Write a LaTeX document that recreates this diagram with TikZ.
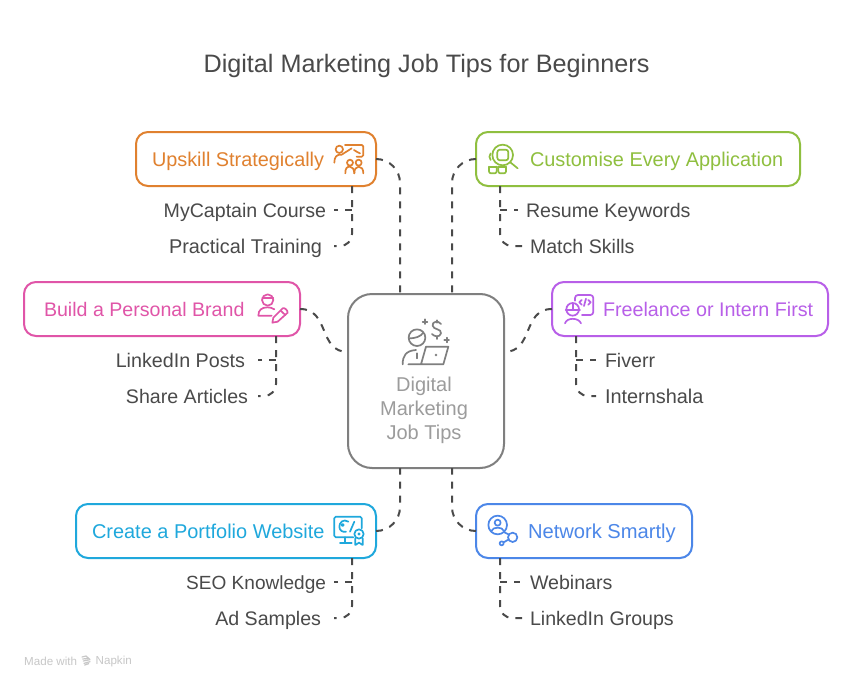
\documentclass[tikz,border=0pt]{standalone}
\usepackage{fontspec}
\setmainfont{Liberation Sans}
\definecolor{cor}{HTML}{E0812F}
\definecolor{cgr}{HTML}{8FBF3F}
\definecolor{cpk}{HTML}{E055A8}
\definecolor{cpu}{HTML}{B85FE8}
\definecolor{ccy}{HTML}{1FA8DC}
\definecolor{cbl}{HTML}{4C87E8}
\definecolor{cgy}{HTML}{7F7F7F}
\definecolor{ctx}{HTML}{4A4A4A}
\definecolor{cct}{HTML}{9C9C9C}
\tikzset{
 box/.style={draw=#1,line width=2pt,rounded corners=12pt,fill=white,inner sep=0pt,outer sep=0pt,anchor=north west},
 head/.style={text=#1,inner sep=0pt,outer sep=0pt,text height=14pt,text depth=0pt,anchor=west},
 lab/.style={text=ctx,inner ysep=0pt,outer sep=0pt,text height=14pt,text depth=0pt},
 fs/.style={font=\fontsize{#1}{20}\selectfont},
 conn/.style={draw=ctx,line width=2pt,dash pattern=on 7pt off 7pt},
 ico/.style={draw=#1,line width=1.7pt,line cap=round,line join=round},
 foot/.style={text=black!22,font=\fontsize{11.6}{12}\selectfont,inner sep=0pt,anchor=west},
}
\begin{document}
\begin{tikzpicture}[x=1pt,y=-1pt]
\useasboundingbox[fill=white] (0,0) rectangle (852,688);
\node[text=ctx,font=\fontsize{25.2}{26}\selectfont,inner sep=0pt] (title) at (426.5,66) {Digital Marketing Job Tips for Beginners};
% boxes
\node[box=cgy,rounded corners=24pt,minimum width=156pt,minimum height=174pt] (cen) at (348,294) {};
\node[box=cor,minimum width=240pt,minimum height=54pt] (up) at (136,132) {};
\node[box=cgr,minimum width=324pt,minimum height=54pt] (cu) at (476,132) {};
\node[box=cpk,minimum width=276pt,minimum height=54pt] (br) at (24,282) {};
\node[box=cpu,minimum width=276pt,minimum height=54pt] (fr) at (552,282) {};
\node[box=ccy,minimum width=300pt,minimum height=54pt] (cr) at (76,504) {};
\node[box=cbl,minimum width=216pt,minimum height=54pt] (ne) at (476,504) {};
% heading texts
\node[head=cor,fs=19.85] (upt) at (152,159) {Upskill Strategically};
\node[head=cgr,fs=19.9] (cut) at (530,159) {Customise Every Application};
\node[head=cpk,fs=19.6] (brt) at (44,309) {Build a Personal Brand};
\node[head=cpu,fs=19.7] (frt) at (603,309) {Freelance or Intern First};
\node[head=ccy,fs=19.95] (crt) at (92,531) {Create a Portfolio Website};
\node[head=cbl,fs=20.15] (net) at (528,531) {Network Smartly};
\node[text=cct,font=\fontsize{20}{24}\selectfont,align=center,inner sep=0pt] (cent) at (424,410) {Digital\\Marketing\\Job Tips};
% labels
\node[lab,fs=19.6,anchor=east,inner xsep=8pt] (a1) at (334,210) {MyCaptain Course};
\node[lab,fs=19.9,anchor=east,inner xsep=12pt] (a2) at (334,246) {Practical Training};
\node[lab,fs=19.6,anchor=west,inner xsep=8pt] (b1) at (518,210) {Resume Keywords};
\node[lab,fs=19.6,anchor=west,inner xsep=8pt] (b2) at (522,246) {Match Skills};
\node[lab,fs=19.7,anchor=east,inner xsep=13pt] (c1) at (258,360) {LinkedIn Posts};
\node[lab,fs=19.6,anchor=east,inner xsep=10pt] (c2) at (258,396) {Share Articles};
\node[lab,fs=19.6,anchor=west,inner xsep=9pt] (d1) at (596,360) {Fiverr};
\node[lab,fs=19.9,anchor=west,inner xsep=9pt] (d2) at (596,396) {Internshala};
\node[lab,fs=19.05,anchor=east,inner xsep=8pt] (e1) at (334,582) {SEO Knowledge};
\node[lab,fs=19.6,anchor=east,inner xsep=13pt] (e2) at (334,618) {Ad Samples};
\node[lab,fs=19.6,anchor=west,inner xsep=10pt] (f1) at (520,582) {Webinars};
\node[lab,fs=19.6,anchor=west,inner xsep=8pt] (f2) at (522,618) {LinkedIn Groups};
% anchor coordinates
\coordinate (cn1) at (400,294); \coordinate (cn2) at (452,294);
\coordinate (cs1) at (400,468); \coordinate (cs2) at (452,468);
\coordinate (cw) at (348,352); \coordinate (ce) at (504,352);
\coordinate (ta) at (352,186); \coordinate (tb) at (500,186);
\coordinate (tc) at (276,336); \coordinate (td) at (576,336);
\coordinate (te) at (352,558); \coordinate (tf) at (500,558);
\coordinate (s1) at (330,309); \coordinate (s2) at (318,352);
\coordinate (s3) at (522,309); \coordinate (s4) at (534,352);
% main connectors
\draw[conn,rounded corners=24pt] (up.east) -| (cn1);
\draw[conn,rounded corners=24pt] (cu.west) -| (cn2);
\draw[conn,rounded corners=24pt] (cr.east) -| (cs1);
\draw[conn,rounded corners=24pt] (ne.west) -| (cs2);
\draw[conn] (br.east) .. controls (s1) and (s2) .. (cw);
\draw[conn] (fr.west) .. controls (s3) and (s4) .. (ce);
% sub connectors
\draw[conn] (a1.east -| ta) -- (a1.east);
\draw[conn,rounded corners=12pt] (ta) |- (a2.east);
\draw[conn] (b1.west -| tb) -- (b1.west);
\draw[conn,rounded corners=12pt] (tb) |- (b2.west);
\draw[conn] (c1.east -| tc) -- (c1.east);
\draw[conn,rounded corners=12pt] (tc) |- (c2.east);
\draw[conn] (d1.west -| td) -- (d1.west);
\draw[conn,rounded corners=12pt] (td) |- (d2.west);
\draw[conn] (e1.east -| te) -- (e1.east);
\draw[conn,rounded corners=12pt] (te) |- (e2.east);
\draw[conn] (f1.west -| tf) -- (f1.west);
\draw[conn,rounded corners=12pt] (tf) |- (f2.west);
% icon: centre
\begin{scope}[shift={(340,285)},scale=1/3,ico=cgy]
\draw (231,158) circle (25);
\draw (209,160) .. controls (225,160) and (242,155) .. (250,143);
\draw (188,238) .. controls (188,212) and (198,197) .. (228,195);
\draw (232,205) -- (232,220);
\draw (205,238) -- (310,238) -- (325,185) -- (258,185) -- (243,238);
\fill[cgy] (288,210) circle (4);
\draw (303,117) .. controls (295,105) and (275,110) .. (278,122) .. controls (280,135) and (305,130) .. (303,145) .. controls (300,158) and (282,155) .. (276,147);
\draw (290,106) -- (290,113) (290,155) -- (290,162);
\draw (248,110) -- (262,110) (255,103) -- (255,117);
\draw (313,165) -- (327,165) (320,158) -- (320,172);
\end{scope}
% icon: upskill
\begin{scope}[shift={(130,120)},scale=1/3,ico=cor]
\draw (628,88) circle (11);
\draw (613,128) .. controls (613,110) and (620,103) .. (635,104) -- (665,85);
\draw[rounded corners=1.5pt] (645,75) -- (700,75) -- (700,110) -- (680,110);
\draw (672,90) -- (680,95) -- (690,100);
\draw (660,128) circle (9); \draw (686,128) circle (9);
\draw (646,160) .. controls (646,145) and (650,140) .. (660,140) .. controls (668,140) and (672,148) .. (673,160);
\draw (673,160) .. controls (673,148) and (678,140) .. (686,140) .. controls (695,140) and (700,148) .. (700,160);
\end{scope}
% icon: customise
\begin{scope}[shift={(450,125)},scale=1/3,ico=cgr]
\draw (158,90) circle (31);
\draw[rounded corners=2.5pt] (142,74) rectangle (175,106);
\draw (181,112) -- (203,130);
\draw (122,85) .. controls (117,90) and (117,100) .. (122,105);
\draw[rounded corners=2pt] (117,125) -- (117,145) -- (140,145) -- (140,125);
\draw[rounded corners=2pt] (117,125) -- (140,125);
\draw[rounded corners=2pt] (145,125) -- (145,145) -- (168,145) -- (168,125);
\draw[rounded corners=2pt] (145,125) -- (168,125);
\end{scope}
% icon: brand
\begin{scope}[shift={(240,280)},scale=1/3,ico=cpk]
\draw (83,60) circle (17);
\draw (67,55) -- (100,55);
\draw (95,107) -- (55,107) .. controls (55,90) and (65,82) .. (83,82) .. controls (90,82) and (97,84) .. (103,88);
\draw (97,128) -- (100,113) -- (128,85) .. controls (133,82) and (143,90) .. (143,98) -- (113,125) -- cycle;
\draw (122,92) -- (136,105);
\end{scope}
% icon: freelance
\begin{scope}[shift={(500,280)},scale=1/3,ico=cpu]
\draw[rounded corners=3pt] (225,62) -- (225,45) -- (280,45) -- (280,105) -- (246,105);
\draw (245,60) -- (238,67) -- (245,74);
\draw (265,60) -- (272,67) -- (265,74);
\draw (252,78) -- (258,56);
\draw (218,88) circle (19);
\draw (197,90) -- (240,90) (218,70) -- (218,90);
\draw (195,130) .. controls (200,112) and (236,112) .. (243,130);
\end{scope}
% icon: create
\begin{scope}[shift={(320,500)},scale=1/3,ico=ccy]
\draw[rounded corners=1.5pt] (100,112) -- (43,112) -- (43,50) -- (125,50) -- (125,85);
\draw (75,112) -- (75,128) (60,130) -- (95,130);
\draw (85,65) .. controls (70,55) and (58,68) .. (58,80) .. controls (58,92) and (70,98) .. (78,95);
\draw (68,75) circle (3);
\draw (103,65) -- (90,95);
\draw (117,102) circle (14); \fill[ccy] (117,102) circle (5);
\draw (106,115) -- (106,135) -- (117,128) -- (128,135) -- (128,115);
\end{scope}
% icon: network
\begin{scope}[shift={(320,500)},scale=1/3,ico=cbl]
\draw (533,75) circle (28);
\draw (533,68) circle (9);
\draw (515,92) .. controls (518,80) and (548,80) .. (551,92);
\draw (578,112) circle (14);
\draw (553,97) -- (567,104);
\draw (565,119) -- (551,127);
\draw (545,130) circle (6);
\end{scope}
% footer
\node[foot] (mw) at (24,661) {Made with};
\begin{scope}[shift={(10,645)},scale=1/3,draw=black!22,line width=1.2pt,line cap=round]
\draw (216,36) -- (228,33) -- (236,40) -- (218,42) (220,48) -- (240,44) (222,55) -- (240,50) (224,60) -- (236,56);
\end{scope}
\node[foot] (nk) at (95.5,661) {Napkin};
\end{tikzpicture}
\end{document}
